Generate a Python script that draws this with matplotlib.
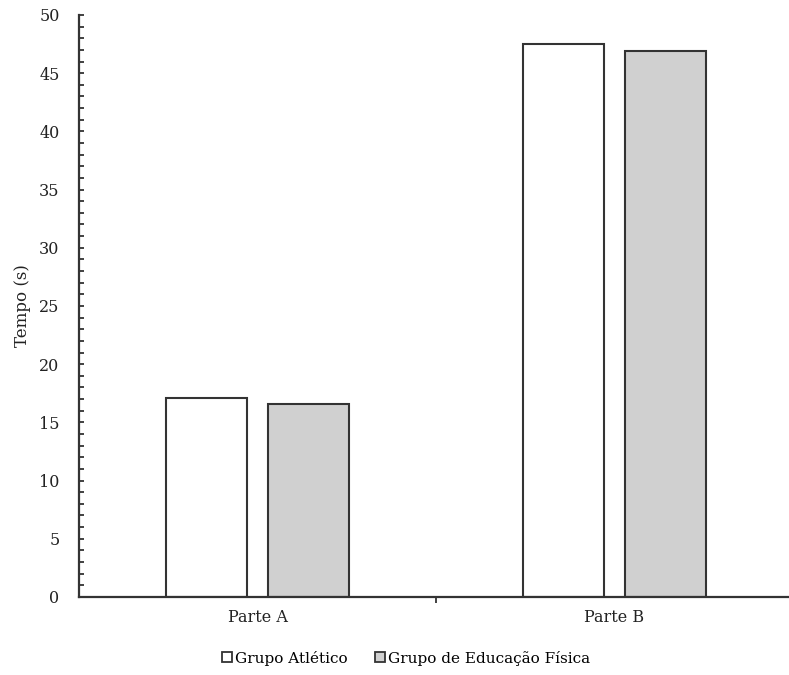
import matplotlib
matplotlib.use("Agg")
import matplotlib.pyplot as plt
import numpy as np
from matplotlib.patches import Patch
from matplotlib.ticker import MultipleLocator, FixedLocator

categories = ["Parte A", "Parte B"]
series_names = ["Grupo Atlético", "Grupo de Educação Física"]
atletico = [17.1, 47.5]
educacao = [16.6, 46.9]
yticks = [0, 5, 10, 15, 20, 25, 30, 35, 40, 45, 50]

plt.rcParams['font.family'] = ['DejaVu Serif']
edge = '#333333'

fig = plt.figure(figsize=(7.89, 6.75), dpi=100)
ax = fig.add_axes([0.1001, 0.1156, 0.9, 0.8622])

x = np.arange(len(categories))
w = 0.227
off = 0.142
ax.bar(x - off, atletico, w, color='white', edgecolor=edge, linewidth=1.5)
ax.bar(x + off, educacao, w, color='#d0d0d0', edgecolor=edge, linewidth=1.5)

ax.set_xlim(-0.5, 1.489)
ax.set_ylim(0, 50)
ax.set_yticks(yticks)
ax.yaxis.set_minor_locator(MultipleLocator(1))
ax.set_xticks(x)
ax.set_xticklabels(categories, fontsize=11.5, color='#222222')
ax.xaxis.set_minor_locator(FixedLocator([0.5]))
ax.tick_params(axis='x', which='major', length=0, pad=9)
ax.tick_params(axis='x', which='minor', length=4, width=1.3, direction='out', color=edge)
ax.tick_params(axis='y', which='both', direction='in', length=3.5, width=1.3, color=edge,
               labelsize=11.5, pad=14, labelcolor='#222222')

for s in ['top', 'right']:
    ax.spines[s].set_visible(False)
for s in ['left', 'bottom']:
    ax.spines[s].set_color(edge)
    ax.spines[s].set_linewidth(1.6)

ax.set_ylabel("Tempo (s)", fontsize=12, color='#222222', labelpad=6)

handles = [Patch(facecolor='white', edgecolor=edge, linewidth=1.3),
           Patch(facecolor='#d0d0d0', edgecolor=edge, linewidth=1.3)]
fig.legend(handles, series_names, loc='center', bbox_to_anchor=(0.515, 0.025),
           ncol=2, frameon=False, fontsize=11, handlelength=0.65, handleheight=0.65,
           handletextpad=0.2, columnspacing=1.8)

fig.savefig("out.png", dpi=100)
